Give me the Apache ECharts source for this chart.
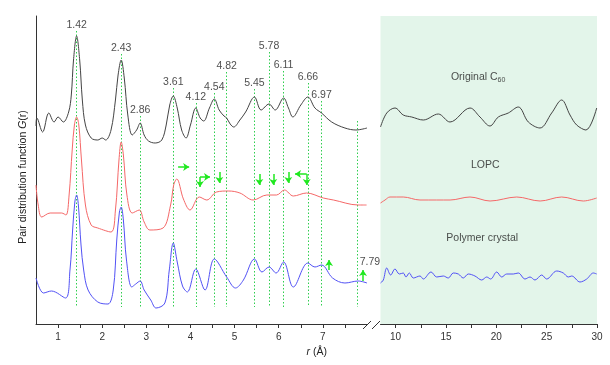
<!DOCTYPE html>
<html>
<head>
<meta charset="utf-8">
<script src="https://cdn.jsdelivr.net/npm/echarts@6/dist/echarts.min.js"></script>
<style>html,body{margin:0;padding:0;background:#fff;}#c{width:610px;height:365px;}</style>
</head>
<body>
<div id="c"></div>
<script>
// ---- Data (r in Å, G(r) in arbitrary offset units) ----
const originalShort = [[0.5,198],[0.52,206],[0.65,192],[0.79,211],[0.91,202],[1.0,207],[1.12,202],[1.24,212],[1.3,229],[1.35,264],[1.42,288],[1.49,264],[1.55,224],[1.62,199],[1.75,186],[1.9,184],[2.0,186],[2.08,184],[2.2,194],[2.3,224],[2.36,249],[2.43,264],[2.5,246],[2.58,209],[2.68,189],[2.78,194],[2.86,201],[2.95,189],[3.05,183],[3.2,181],[3.35,184],[3.45,199],[3.53,219],[3.61,228],[3.7,216],[3.8,194],[3.9,186],[4.0,199],[4.12,216],[4.22,206],[4.3,203],[4.43,216],[4.54,225],[4.65,214],[4.76,208],[4.82,206],[4.9,200],[4.98,197],[5.12,204],[5.25,212],[5.45,227],[5.6,214],[5.78,220],[5.92,214],[6.11,226],[6.22,216],[6.32,207],[6.5,219],[6.66,227],[6.82,216],[6.97,211],[7.2,202],[7.5,196],[7.75,194],[8.0,196]];
const originalLong = [[8.5,197],[9.12,211],[9.94,216],[10.76,209],[11.6,207],[12.75,204],[14.24,210],[15.4,202],[17.39,216],[18.38,207],[19.37,198],[20.2,207],[21.19,211],[22.18,217],[23.18,202],[24.34,196],[25.5,211],[26.49,224],[27.32,209],[27.98,199],[28.9,194],[29.97,216]];
const lopcShort = [[0.5,139],[0.55,119],[0.63,107],[0.82,111],[1.08,111],[1.18,109],[1.25,129],[1.32,174],[1.37,199],[1.42,207],[1.47,199],[1.53,164],[1.62,119],[1.75,99],[1.9,96],[2.2,92],[2.3,114],[2.38,164],[2.43,182],[2.48,169],[2.56,129],[2.68,111],[2.84,114],[2.95,102],[3.08,94],[3.38,96],[3.55,119],[3.62,139],[3.69,145],[3.84,125],[3.99,114],[4.2,127],[4.37,124],[4.59,132],[4.86,133],[5.12,131],[5.42,124],[5.73,129],[5.95,129],[6.13,134],[6.33,128],[6.63,131],[7.01,126],[7.24,124],[7.8,119],[7.99,119]];
const lopcLong = [[8.5,121],[8.95,124],[9.44,127],[10.76,127],[12.42,124],[14.08,124],[15.41,124],[17.39,127],[19.38,123],[22.03,127],[24.35,123],[26.49,127],[28.64,123],[29.97,126]];
const polymerShort = [[0.5,46],[0.67,31],[0.85,33],[1.17,26],[1.27,54],[1.33,94],[1.38,122],[1.42,129],[1.46,119],[1.52,79],[1.58,54],[1.68,34],[1.9,22],[2.13,20],[2.25,34],[2.33,84],[2.39,112],[2.43,117],[2.48,104],[2.55,64],[2.67,37],[2.76,40],[2.86,43],[2.95,34],[3.1,24],[3.22,16],[3.42,21],[3.52,54],[3.61,81],[3.7,62],[3.82,38],[3.93,32],[4.12,55],[4.33,34],[4.54,65],[4.82,47],[5.02,36],[5.2,44],[5.45,65],[5.62,52],[5.78,57],[5.94,51],[6.11,62],[6.33,37],[6.66,61],[6.82,57],[6.97,59],[7.22,46],[7.5,41],[7.8,43],[8.0,41]];
const polymerLong = [[8.5,41],[8.78,44],[9.12,56],[9.51,49],[9.94,55],[10.37,50],[10.76,51],[11.03,47],[11.36,51],[11.76,46],[12.42,48],[12.75,45],[13.52,52],[14.08,47],[14.74,48],[15.23,46],[15.73,51],[16.23,50],[16.72,46],[17.22,50],[17.88,48],[18.55,44],[19.05,47],[19.44,45],[20.04,52],[20.54,47],[21.03,50],[21.69,50],[22.18,51],[22.85,45],[23.35,47],[23.84,44],[24.51,49],[25.0,45],[26.0,53],[26.65,51],[27.15,47],[27.49,48],[28.31,42],[28.98,45],[29.64,51],[29.97,50]];

const peakR = [1.42, 2.43, 2.86, 3.61, 4.12, 4.54, 4.82, 5.45, 5.78, 6.11, 6.66, 6.97];
const peakLabelY = [299, 276, 214, 242, 227, 237, 258, 241, 278, 259, 247, 229];
const peakLineTop = [293, 270, 208, 236, 221, 231, 252, 235, 272, 253, 241, 223];
const extraPeakR = 7.79, extraLabelY = 62, extraLineTop = 203;
const lineBottom = 17;

// arrows [x1,y1,x2,y2] (data coords, arrowhead at second point)
const arrows = [[3.72,157,3.97,157],[4.216,147,4.216,137],[4.216,147,4.443,147],[4.654,152,4.654,141],[5.56,150,5.56,139],[5.877,150,5.877,139],[6.217,152,6.217,141],[6.634,150,6.369,150],[6.634,150,6.634,139],[7.14,54,7.14,64],[7.91,43,7.91,54]];

const seriesNames = ['Original C', 'LOPC', 'Polymer crystal'];
const seriesNameSub = ['60', '', ''];
const seriesNamePos = [[18.2,247],[18.9,159],[18.6,86]];

const leftTicks = [1,1.5,2,2.5,3,3.5,4,4.5,5,5.5,6,6.5,7,7.5];
const leftLabels = [1,2,3,4,5,6,7];
const rightTicks = [10,12.5,15,17.5,20,22.5,25,27.5,30];
const rightLabels = [10,15,20,25,30];

const FONT = 'Liberation Sans, Arial, Helvetica, sans-serif';
const AX = '#333';
const GREEN = '#2fcf4f';
const ARROW = '#1fe81f';
const C_BLACK = '#444444', C_RED = '#f56868', C_BLUE = '#5252f5';

const chart = echarts.init(document.getElementById('c'), null, {renderer:'canvas'});

function xAx(idx, min, max, ticks, labels){
  return {type:'value', gridIndex:idx, min:min, max:max,
    axisLine:{show:true, onZero:false, lineStyle:{color:AX, width:1}},
    axisTick:{show:true, inside:false, length:4, customValues:ticks, lineStyle:{color:AX}},
    axisLabel:{show:true, customValues:labels, margin:8, fontSize:10, color:'#333', fontFamily:FONT},
    splitLine:{show:false}};
}
function yAx(idx, showLine){
  return {type:'value', gridIndex:idx, min:0, max:308,
    axisLine:{show:showLine, lineStyle:{color:AX, width:1}},
    axisTick:{show:false}, axisLabel:{show:false}, splitLine:{show:false}};
}
function curve(data, color, gi){
  return {type:'line', xAxisIndex:gi, yAxisIndex:gi, data:data, smooth:0.35, symbol:'none',
    lineStyle:{color:color, width:1}, silent:true, z:3};
}

const peakLines = peakR.map((r,i)=>[{coord:[r,peakLineTop[i]]},{coord:[r,lineBottom]}]);
peakLines.push([{coord:[extraPeakR,extraLineTop]},{coord:[extraPeakR,lineBottom]}]);

const option = {
  animation:false,
  backgroundColor:'#fff',
  textStyle:{fontFamily:FONT},
  grid:[
    {left:36, top:16, width:331, height:308, show:false},
    {left:380.5, top:16, width:216.5, height:308, show:true, backgroundColor:'#e3f5ea', borderWidth:0}
  ],
  xAxis:[xAx(0,0.5,8.0,leftTicks,leftLabels), xAx(1,8.5,30,rightTicks,rightLabels)],
  yAxis:[yAx(0,true), yAx(1,false)],
  series:[
    curve(originalShort,C_BLACK,0), curve(lopcShort,C_RED,0), curve(polymerShort,C_BLUE,0),
    curve(originalLong,C_BLACK,1), curve(lopcLong,C_RED,1), curve(polymerLong,C_BLUE,1),
    {type:'scatter', xAxisIndex:0, yAxisIndex:0, symbolSize:0, silent:true, z:5,
      data: peakR.map((r,i)=>[r, peakLabelY[i]]),
      label:{show:true, position:'inside', formatter:p=>p.value[0].toFixed(2), fontSize:10.5, color:'#222', fontFamily:FONT},
      markLine:{silent:true, symbol:['none','none'], label:{show:false},
        lineStyle:{color:GREEN, type:[1.5,2], width:1}, data:peakLines, z:2}
    },
    {type:'scatter', xAxisIndex:0, yAxisIndex:0, symbolSize:0, silent:true, z:5,
      data:[[extraPeakR, extraLabelY]],
      label:{show:true, position:'right', distance:2, formatter:p=>p.value[0].toFixed(2), fontSize:10.5, color:'#222', fontFamily:FONT}
    },
    {type:'scatter', xAxisIndex:0, yAxisIndex:0, symbolSize:0, silent:true, z:6,
      data:[[1,1]],
      markLine:{silent:true, symbol:['none','arrow'], symbolSize:6, label:{show:false},
        lineStyle:{color:ARROW, type:'solid', width:1.5},
        data: arrows.map(a=>[{coord:[a[0],a[1]]},{coord:[a[2],a[3]]}])}
    },
    {type:'scatter', xAxisIndex:1, yAxisIndex:1, symbolSize:0, silent:true, z:5,
      data: seriesNames.map((n,i)=>({name:n, value:seriesNamePos[i], sub:seriesNameSub[i]})),
      label:{show:true, position:'inside', fontSize:10.5, color:'#222', fontFamily:FONT,
        formatter:p=> p.data.sub ? p.name + '{s|' + p.data.sub + '}' : p.name,
        rich:{s:{fontSize:7, color:'#222', fontFamily:FONT, verticalAlign:'bottom', padding:[6,0,0,0]}}}
    }
  ],
  graphic:[
    {type:'line', shape:{x1:363, y1:329, x2:371, y2:321}, style:{stroke:AX, lineWidth:1}},
    {type:'line', shape:{x1:372, y1:329, x2:380, y2:321}, style:{stroke:AX, lineWidth:1}},
    {type:'text', x:22.7, y:177, rotation:Math.PI/2,
      style:{text:'Pair distribution function {i|G}(r{i|})', rich:{i:{fontStyle:'italic', fontSize:10.5, fontFamily:FONT, fill:'#222'}},
        fontSize:10.5, fontFamily:FONT, fill:'#222', align:'center', verticalAlign:'middle'}},
    {type:'text', x:316.7, y:351.7,
      style:{text:'{i|r} (Å)', rich:{i:{fontStyle:'italic', fontSize:10.5, fontFamily:FONT, fill:'#222'}},
        fontSize:10.5, fontFamily:FONT, fill:'#222', align:'center', verticalAlign:'middle'}}
  ]
};
chart.setOption(option);
</script>
</body>
</html>
